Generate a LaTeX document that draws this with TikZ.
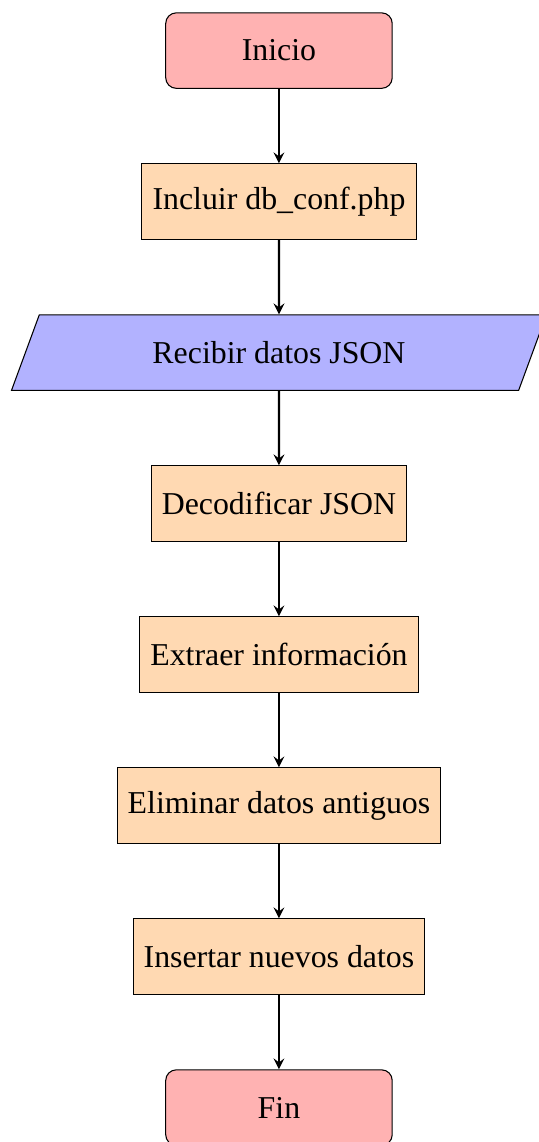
\documentclass[tikz,border=0pt,12pt]{standalone}
\usepackage{fontspec}
\setmainfont{Liberation Serif}
\usetikzlibrary{shapes.geometric,arrows,positioning}

\tikzset{
  startstop/.style={rectangle, rounded corners, minimum width=3cm, minimum height=1cm,
    text centered, draw=black, fill=red!30},
  io/.style={trapezium, trapezium left angle=70, trapezium right angle=110,
    trapezium stretches=true, minimum width=7.09cm, minimum height=1cm,
    text centered, draw=black, fill=blue!30},
  process/.style={rectangle, minimum width=3cm, minimum height=1cm,
    text centered, draw=black, fill=orange!30},
  flow/.style={thick, ->, >=stealth}
}

\begin{document}
\begin{tikzpicture}[node distance=2cm]
  \useasboundingbox (-3.695,0.67) rectangle (3.431,-14.456);

  \node (start) [startstop] at (0,0) {Inicio};
  \node (incl) [process] at (0,-2) {Incluir db\_conf.php};
  \node (recv) [io] at (0,-4) {Recibir datos JSON};
  \node (dec) [process] at (0,-6) {Decodificar JSON};
  \node (ext) [process] at (0,-8) {Extraer información};
  \node (del) [process] at (0,-10) {Eliminar datos antiguos};
  \node (ins) [process] at (0,-12) {Insertar nuevos datos};
  \node (stop) [startstop] at (0,-14) {Fin};

  \draw [flow] (start) -- (incl);
  \draw [flow] (incl) -- (recv);
  \draw [flow] (recv) -- (dec);
  \draw [flow] (dec) -- (ext);
  \draw [flow] (ext) -- (del);
  \draw [flow] (del) -- (ins);
  \draw [flow] (ins) -- (stop);
\end{tikzpicture}
\end{document}
